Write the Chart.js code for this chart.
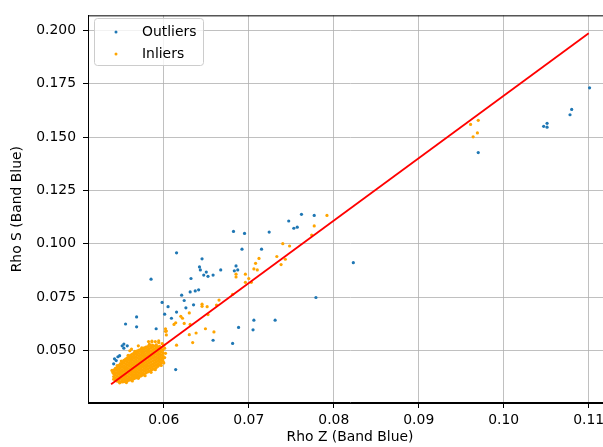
<!DOCTYPE html>
<html>
<head>
<meta charset="utf-8">
<script src="https://cdn.jsdelivr.net/npm/chart.js@4"></script>
<style>
  html, body { margin: 0; padding: 0; background: #fff; overflow: hidden; }
  #wrap { width: 603px; height: 447px; overflow: hidden; }
  canvas { display: block; }
</style>
</head>
<body>
<div id="wrap"><canvas id="scatter-chart" width="616" height="447"></canvas></div>
<script>
// Rho Z vs Rho S (Band Blue)
const outliers = [
  [0.1101, 0.1730], [0.1080, 0.1629], [0.1078, 0.1604], [0.1051, 0.1564], [0.1047, 0.1550],
  [0.1051, 0.1546], [0.0970, 0.1427], [0.0823, 0.0912], [0.0779, 0.0749],
  [0.0762, 0.1138], [0.0777, 0.1133], [0.0747, 0.1107], [0.0753, 0.1073], [0.0757, 0.1078],
  [0.0724, 0.1055], [0.0682, 0.1058], [0.0695, 0.1049], [0.0692, 0.0975], [0.0715, 0.0975],
  [0.0685, 0.0897], [0.0683, 0.0874], [0.0687, 0.0878], [0.0667, 0.0878], [0.0658, 0.0854],
  [0.0652, 0.0848], [0.0647, 0.0854], [0.0650, 0.0868], [0.0643, 0.0878], [0.0642, 0.0892],
  [0.0645, 0.0930], [0.0615, 0.0958], [0.0585, 0.0835], [0.0632, 0.0838], [0.0631, 0.0775],
  [0.0637, 0.0780], [0.0641, 0.0785], [0.0621, 0.0760], [0.0624, 0.0735], [0.0635, 0.0715],
  [0.0626, 0.0701], [0.0598, 0.0726], [0.0605, 0.0706], [0.0601, 0.0671], [0.0615, 0.0681],
  [0.0609, 0.0652], [0.0591, 0.0603], [0.0658, 0.0549], [0.0681, 0.0534], [0.0688, 0.0609],
  [0.0705, 0.0598], [0.0706, 0.0643], [0.0731, 0.0643], [0.0614, 0.0412],
  [0.0555, 0.0625], [0.0568, 0.0658], [0.0568, 0.0612],
  [0.0551, 0.0523], [0.0553, 0.0531], [0.0553, 0.0512], [0.0557, 0.0523], [0.0546, 0.0472],
  [0.0542, 0.0462], [0.0544, 0.0454], [0.0548, 0.0477], [0.0541, 0.0439]
];

const inliersSpread = [
  [0.0961, 0.1559], [0.0970, 0.1578], [0.0969, 0.1519], [0.0964, 0.1501],
  [0.0792, 0.1133], [0.0777, 0.1084], [0.0774, 0.1041], [0.0740, 0.1001], [0.0748, 0.0990],
  [0.0733, 0.0941], [0.0743, 0.0928], [0.0738, 0.0903], [0.0712, 0.0932], [0.0708, 0.0909],
  [0.0706, 0.0883], [0.0710, 0.0878], [0.0696, 0.0858], [0.0685, 0.0858], [0.0685, 0.0845],
  [0.0700, 0.0838], [0.0696, 0.0820], [0.0703, 0.0820], [0.0681, 0.0764], [0.0665, 0.0737],
  [0.0662, 0.0714], [0.0645, 0.0718], [0.0645, 0.0708], [0.0651, 0.0706], [0.0652, 0.0669],
  [0.0630, 0.0677], [0.0620, 0.0661], [0.0622, 0.0652], [0.0614, 0.0631], [0.0612, 0.0623],
  [0.0624, 0.0628], [0.0631, 0.0623], [0.0602, 0.0603], [0.0602, 0.0591], [0.0603, 0.0574],
  [0.0630, 0.0575], [0.0638, 0.0583], [0.0649, 0.0603], [0.0659, 0.0588], [0.0634, 0.0538],
  [0.0615, 0.0526], [0.0586, 0.0545], [0.0594, 0.0546], [0.0591, 0.0528], [0.0603, 0.0592],
  [0.0539, 0.0408], [0.0560, 0.0500], [0.0570, 0.0523], [0.0582, 0.0543], [0.0586, 0.0541],
  [0.0590, 0.0543], [0.0594, 0.0538], [0.0562, 0.0508], [0.0598, 0.0533], [0.0600, 0.0526]
];

// dense cluster at low Rho Z
const inliersCluster = [
  [0.0541, 0.0367], [0.0541, 0.0379], [0.0541, 0.0393], [0.0541, 0.0404], [0.0541, 0.0410],
  [0.0543, 0.0361], [0.0543, 0.0373], [0.0543, 0.0386], [0.0543, 0.0398], [0.0543, 0.0411], [0.0543, 0.0418],
  [0.0545, 0.0358], [0.0545, 0.0370], [0.0545, 0.0383], [0.0545, 0.0395], [0.0545, 0.0408], [0.0545, 0.0420],
  [0.0547, 0.0356], [0.0547, 0.0364], [0.0547, 0.0377], [0.0547, 0.0390], [0.0547, 0.0402], [0.0547, 0.0415], [0.0547, 0.0427], [0.0547, 0.0432],
  [0.0549, 0.0355], [0.0549, 0.0369], [0.0549, 0.0382], [0.0549, 0.0394], [0.0549, 0.0407], [0.0549, 0.0421], [0.0549, 0.0433], [0.0549, 0.0440],
  [0.0551, 0.0354], [0.0551, 0.0361], [0.0551, 0.0374], [0.0551, 0.0387], [0.0551, 0.0400], [0.0551, 0.0412], [0.0551, 0.0426], [0.0551, 0.0438], [0.0551, 0.0447],
  [0.0553, 0.0355], [0.0553, 0.0367], [0.0553, 0.0380], [0.0553, 0.0393], [0.0553, 0.0406], [0.0553, 0.0419], [0.0553, 0.0431], [0.0553, 0.0444], [0.0553, 0.0455],
  [0.0555, 0.0357], [0.0555, 0.0362], [0.0555, 0.0375], [0.0555, 0.0388], [0.0555, 0.0401], [0.0555, 0.0413], [0.0555, 0.0426], [0.0555, 0.0439], [0.0555, 0.0451], [0.0555, 0.0461],
  [0.0557, 0.0359], [0.0557, 0.0370], [0.0557, 0.0383], [0.0557, 0.0396], [0.0557, 0.0409], [0.0557, 0.0421], [0.0557, 0.0434], [0.0557, 0.0447], [0.0557, 0.0459], [0.0557, 0.0467],
  [0.0559, 0.0362], [0.0559, 0.0366], [0.0559, 0.0378], [0.0559, 0.0391], [0.0559, 0.0404], [0.0559, 0.0417], [0.0559, 0.0430], [0.0559, 0.0442], [0.0559, 0.0455], [0.0559, 0.0467], [0.0559, 0.0474],
  [0.0561, 0.0364], [0.0561, 0.0373], [0.0561, 0.0386], [0.0561, 0.0399], [0.0561, 0.0412], [0.0561, 0.0425], [0.0561, 0.0437], [0.0561, 0.0450], [0.0561, 0.0463], [0.0561, 0.0475], [0.0561, 0.0480],
  [0.0563, 0.0367], [0.0563, 0.0380], [0.0563, 0.0393], [0.0563, 0.0406], [0.0563, 0.0419], [0.0563, 0.0432], [0.0563, 0.0445], [0.0563, 0.0458], [0.0563, 0.0471], [0.0563, 0.0484],
  [0.0565, 0.0370], [0.0565, 0.0375], [0.0565, 0.0387], [0.0565, 0.0400], [0.0565, 0.0413], [0.0565, 0.0426], [0.0565, 0.0439], [0.0565, 0.0452], [0.0565, 0.0465], [0.0565, 0.0478], [0.0565, 0.0489],
  [0.0567, 0.0373], [0.0567, 0.0382], [0.0567, 0.0394], [0.0567, 0.0407], [0.0567, 0.0420], [0.0567, 0.0433], [0.0567, 0.0446], [0.0567, 0.0459], [0.0567, 0.0472], [0.0567, 0.0485], [0.0567, 0.0495],
  [0.0569, 0.0375], [0.0569, 0.0388], [0.0569, 0.0401], [0.0569, 0.0414], [0.0569, 0.0427], [0.0569, 0.0440], [0.0569, 0.0453], [0.0569, 0.0466], [0.0569, 0.0479], [0.0569, 0.0492], [0.0569, 0.0499],
  [0.0571, 0.0378], [0.0571, 0.0383], [0.0571, 0.0396], [0.0571, 0.0409], [0.0571, 0.0422], [0.0571, 0.0435], [0.0571, 0.0448], [0.0571, 0.0461], [0.0571, 0.0474], [0.0571, 0.0487], [0.0571, 0.0500], [0.0571, 0.0503],
  [0.0573, 0.0382], [0.0573, 0.0390], [0.0573, 0.0403], [0.0573, 0.0416], [0.0573, 0.0429], [0.0573, 0.0442], [0.0573, 0.0455], [0.0573, 0.0468], [0.0573, 0.0481], [0.0573, 0.0494], [0.0573, 0.0507],
  [0.0575, 0.0386], [0.0575, 0.0397], [0.0575, 0.0410], [0.0575, 0.0423], [0.0575, 0.0436], [0.0575, 0.0449], [0.0575, 0.0462], [0.0575, 0.0475], [0.0575, 0.0488], [0.0575, 0.0501], [0.0575, 0.0511],
  [0.0577, 0.0391], [0.0577, 0.0404], [0.0577, 0.0417], [0.0577, 0.0430], [0.0577, 0.0443], [0.0577, 0.0456], [0.0577, 0.0469], [0.0577, 0.0482], [0.0577, 0.0495], [0.0577, 0.0508], [0.0577, 0.0514],
  [0.0579, 0.0396], [0.0579, 0.0409], [0.0579, 0.0422], [0.0579, 0.0435], [0.0579, 0.0448], [0.0579, 0.0461], [0.0579, 0.0474], [0.0579, 0.0487], [0.0579, 0.0500], [0.0579, 0.0512], [0.0579, 0.0517],
  [0.0581, 0.0401], [0.0581, 0.0414], [0.0581, 0.0427], [0.0581, 0.0440], [0.0581, 0.0453], [0.0581, 0.0466], [0.0581, 0.0479], [0.0581, 0.0492], [0.0581, 0.0505], [0.0581, 0.0519],
  [0.0583, 0.0405], [0.0583, 0.0418], [0.0583, 0.0431], [0.0583, 0.0444], [0.0583, 0.0457], [0.0583, 0.0470], [0.0583, 0.0483], [0.0583, 0.0496], [0.0583, 0.0509], [0.0583, 0.0521],
  [0.0585, 0.0409], [0.0585, 0.0422], [0.0585, 0.0435], [0.0585, 0.0448], [0.0585, 0.0461], [0.0585, 0.0474], [0.0585, 0.0487], [0.0585, 0.0500], [0.0585, 0.0513], [0.0585, 0.0524],
  [0.0587, 0.0413], [0.0587, 0.0426], [0.0587, 0.0439], [0.0587, 0.0452], [0.0587, 0.0465], [0.0587, 0.0478], [0.0587, 0.0491], [0.0587, 0.0504], [0.0587, 0.0517], [0.0587, 0.0525],
  [0.0589, 0.0417], [0.0589, 0.0430], [0.0589, 0.0443], [0.0589, 0.0456], [0.0589, 0.0469], [0.0589, 0.0482], [0.0589, 0.0495], [0.0589, 0.0508], [0.0589, 0.0521],
  [0.0591, 0.0421], [0.0591, 0.0434], [0.0591, 0.0447], [0.0591, 0.0460], [0.0591, 0.0473], [0.0591, 0.0486], [0.0591, 0.0499], [0.0591, 0.0512], [0.0591, 0.0525],
  [0.0593, 0.0427], [0.0593, 0.0440], [0.0593, 0.0453], [0.0593, 0.0466], [0.0593, 0.0479], [0.0593, 0.0492], [0.0593, 0.0505], [0.0593, 0.0518],
  [0.0595, 0.0434], [0.0595, 0.0447], [0.0595, 0.0460], [0.0595, 0.0473], [0.0595, 0.0486], [0.0595, 0.0499], [0.0595, 0.0512], [0.0595, 0.0520],
  [0.0597, 0.0442], [0.0597, 0.0455], [0.0597, 0.0468], [0.0597, 0.0481], [0.0597, 0.0494], [0.0597, 0.0507], [0.0597, 0.0514],
  [0.0599, 0.0451], [0.0599, 0.0464], [0.0599, 0.0477], [0.0599, 0.0490], [0.0599, 0.0503],
  // ragged edges of the cluster
  [0.0548, 0.0350], [0.0556, 0.0351], [0.0563, 0.0359], [0.0570, 0.0371], [0.0578, 0.0383],
  [0.0585, 0.0399], [0.0590, 0.0411], [0.0597, 0.0431], [0.0600, 0.0443], [0.0601, 0.0468],
  [0.0602, 0.0488], [0.0550, 0.0452], [0.0558, 0.0479], [0.0566, 0.0497], [0.0574, 0.0513],
  [0.0545, 0.0430], [0.0540, 0.0398], [0.0583, 0.0530], [0.0601, 0.0512]
];

// regression line end points
const fitLine = [[0.0538, 0.0343], [0.1100, 0.1985]];

const xTicks = [0.06, 0.07, 0.08, 0.09, 0.10, 0.11];
const xTickLabels = ['0.06', '0.07', '0.08', '0.09', '0.10', '0.11'];
const yTicks = [0.050, 0.075, 0.100, 0.125, 0.150, 0.175, 0.200];
const yTickLabels = ['0.050', '0.075', '0.100', '0.125', '0.150', '0.175', '0.200'];

const FONT = 'DejaVu Sans';
const toXY = pts => pts.map(p => ({ x: p[0], y: p[1] }));

// frame (top/right spines) and the legend in the upper left corner
const framePlugin = {
  id: 'frame',
  afterDatasetsDraw(chart) {
    const { ctx, chartArea: a } = chart;
    ctx.save();
    ctx.strokeStyle = '#000';
    ctx.lineWidth = 1;
    ctx.strokeRect(a.left + 0.5, a.top + 0.5, a.right - a.left, a.bottom - a.top);
    ctx.restore();
  },
  afterDraw(chart) {
    const { ctx } = chart;
    const items = chart.data.datasets.filter(d => d.inLegend);
    ctx.save();
    ctx.beginPath();
    ctx.roundRect(94.5, 18.5, 109, 47, 3);
    ctx.fillStyle = 'rgba(255,255,255,0.8)';
    ctx.fill();
    ctx.strokeStyle = '#cccccc';
    ctx.lineWidth = 1;
    ctx.stroke();
    ctx.font = '13.9px "' + FONT + '"';
    ctx.textBaseline = 'middle';
    ctx.textAlign = 'left';
    items.forEach((d, i) => {
      const y = 32 + i * 22;
      ctx.beginPath();
      ctx.arc(116, y, 1.5, 0, Math.PI * 2);
      ctx.fillStyle = d.backgroundColor;
      ctx.fill();
      ctx.fillStyle = '#000';
      ctx.fillText(d.label, 142, y);
    });
    ctx.restore();
  }
};

const ctx = document.getElementById('scatter-chart').getContext('2d');
new Chart(ctx, {
  type: 'scatter',
  data: {
    datasets: [
      {
        label: 'Outliers',
        inLegend: true,
        data: toXY(outliers),
        backgroundColor: '#1f77b4',
        borderWidth: 0,
        pointRadius: 1.6,
        order: 2
      },
      {
        label: 'Inliers',
        inLegend: true,
        data: toXY(inliersCluster.concat(inliersSpread)),
        backgroundColor: '#ffa500',
        borderWidth: 0,
        pointRadius: 1.6,
        order: 1
      },
      {
        type: 'line',
        label: 'fit',
        data: toXY(fitLine),
        borderColor: '#ff0000',
        borderWidth: 1.8,
        pointRadius: 0,
        fill: false,
        order: 0
      }
    ]
  },
  options: {
    responsive: false,
    animation: false,
    devicePixelRatio: 1,
    layout: { padding: { top: 10, right: 3, left: 0, bottom: 0 } },
    plugins: {
      legend: { display: false },
      tooltip: { enabled: false }
    },
    scales: {
      x: {
        type: 'linear',
        min: 0.05108,
        max: 0.11274,
        afterBuildTicks: s => { s.ticks = xTicks.map(v => ({ value: v })); },
        afterFit: s => { s.height = 44; },
        ticks: {
          callback: (v, i) => xTickLabels[i],
          color: '#000',
          padding: 4,
          maxRotation: 0,
          font: { family: FONT, size: 13.9 }
        },
        grid: { color: '#b0b0b0', lineWidth: 0.8, tickColor: '#000', tickWidth: 1, tickLength: 5 },
        border: { display: true, color: '#000', width: 1 },
        title: {
          display: true,
          text: 'Rho Z (Band Blue)',
          color: '#000',
          font: { family: FONT, size: 13.9 },
          padding: { top: 0, bottom: 1 }
        }
      },
      y: {
        type: 'linear',
        min: 0.02555,
        max: 0.20692,
        afterBuildTicks: s => { s.ticks = yTicks.map(v => ({ value: v })); },
        afterFit: s => { s.width = 88; },
        ticks: {
          callback: (v, i) => yTickLabels[i],
          color: '#000',
          padding: 7,
          font: { family: FONT, size: 13.9 }
        },
        grid: { color: '#b0b0b0', lineWidth: 0.8, tickColor: '#000', tickWidth: 1, tickLength: 5 },
        border: { display: true, color: '#000', width: 1 },
        title: {
          display: true,
          text: 'Rho S (Band Blue)',
          color: '#000',
          font: { family: FONT, size: 13.9 },
          padding: { top: 9, bottom: 0 }
        }
      }
    }
  },
  plugins: [framePlugin]
});
</script>
</body>
</html>
